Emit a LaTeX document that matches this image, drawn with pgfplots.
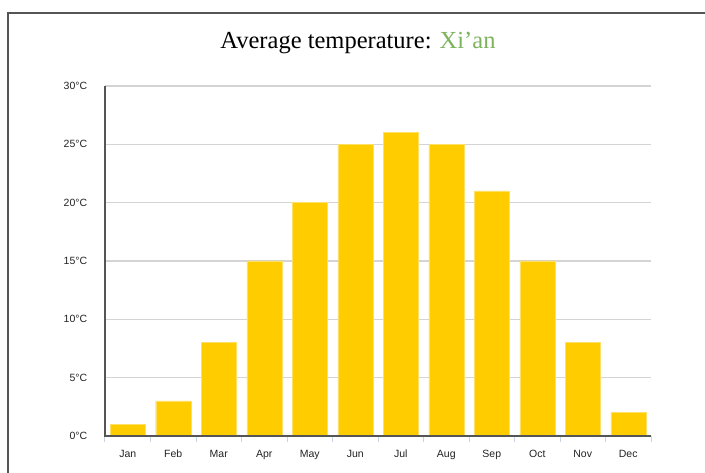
\documentclass[border=0pt]{standalone}
\usepackage{fontspec}
\setmainfont{Liberation Serif}
\newfontfamily\arial{Liberation Sans}
\usepackage{pgfplots}
\pgfplotsset{compat=1.18}
\definecolor{baryellow}{HTML}{FFCC00}
\definecolor{titlegreen}{HTML}{7DB35C}
\definecolor{gridgray}{HTML}{D4D4D4}
\definecolor{axisgray}{HTML}{555555}
\definecolor{tickblue}{HTML}{C9D5E2}
\definecolor{labelgray}{HTML}{222222}
\begin{document}
\begin{tikzpicture}[x=1pt,y=1pt]
\useasboundingbox (0,0) rectangle (705,473);
% outer frame
\draw[axisgray, line width=1.2pt] (8,-5) -- (8,460) -- (710,460);
\node[font=\fontsize{24.5}{28}\selectfont, anchor=base] at (358,424) {Average temperature: \textcolor{titlegreen}{Xi’an}};
\begin{axis}[
  at={(105pt,37pt)}, anchor=origin,
  scale only axis, width=546pt, height=350pt,
  xmin=0, xmax=12, ymin=0, ymax=30,
  axis lines*=left,
  axis line style={draw=none},
  xtick={0.5,1.5,...,11.5},
  xticklabels={Jan,Feb,Mar,Apr,May,Jun,Jul,Aug,Sep,Oct,Nov,Dec},
  minor xtick={0,1,...,12},
  major x tick style={draw=none},
  minor x tick style={tickblue, line width=1pt},
  tick align=outside,
  minor tick length=6pt,
  ytick={0,5,...,30},
  yticklabels={0°C,5°C,10°C,15°C,20°C,25°C,30°C},
  major y tick style={draw=none},
  ymajorgrids,
  grid style={gridgray, line width=1.4pt},
  tick label style={font=\arial\fontsize{10.5}{12}\selectfont, text=labelgray},
  xticklabel style={anchor=base, yshift=-17pt},
  yticklabel style={xshift=-10pt},
  clip=false,
]
\addplot[ybar, bar width=35pt, fill=baryellow, draw=baryellow!60!white, line width=0.4pt] coordinates {
  (0.5,1) (1.5,3) (2.5,8) (3.5,15) (4.5,20) (5.5,25)
  (6.5,26) (7.5,25) (8.5,21) (9.5,15) (10.5,8) (11.5,2)
};
\draw[axisgray, line width=2.6pt] (rel axis cs:0,1) -- (rel axis cs:0,0) -- (rel axis cs:1,0);
\end{axis}
\end{tikzpicture}
\end{document}
